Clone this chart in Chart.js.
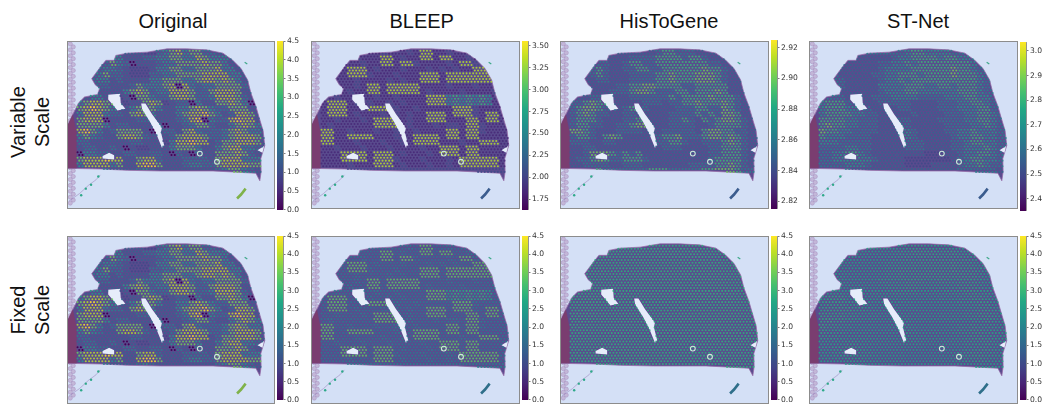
<!DOCTYPE html>
<html><head><meta charset="utf-8">
<script src="https://cdn.jsdelivr.net/npm/chart.js@4"></script>
<style>
html,body{margin:0;padding:0;background:#fff;width:1042px;height:406px;overflow:hidden}
.abs{position:absolute}
.t{font:20px "Liberation Sans",Arial,sans-serif;color:#111;text-align:center;white-space:nowrap}
.panel{box-sizing:border-box;border:1.5px solid #8c8c8c;background:#d4e0f6;filter:blur(.35px)}
canvas{display:block}
.row{line-height:24px;transform:translate(-50%,-50%) rotate(-90deg)}
</style></head><body>
<script>
const titles=["Original","BLEEP","HisToGene","ST-Net"];
const rowLabels=[["Variable","Scale"],["Fixed","Scale"]];
const originalRange=[0,4.5], bleepRange=[1.626,3.556], histogeneRange=[2.815,2.925], stnetRange=[2.35,3.036];
const fixedTicks=[0,0.5,1,1.5,2,2.5,3,3.5,4,4.5];
const bleepTicks=[1.75,2,2.25,2.5,2.75,3,3.25,3.5];
const histogeneTicks=[2.82,2.84,2.86,2.88,2.9,2.92];
const stnetTicks=[2.4,2.5,2.6,2.7,2.8,2.9,3];
// levels, 0 = bottom of range, 9 = top of range
const originalLevels=[
"33333333332245785774433333333","33333553334455775587555333333","33334754033345577778775333333",
"33345543222355775577785533333","33457443222445577778888553333","33455343333557775578878753333",
"33344333475557808545577774333","33333335787455888744788873333","33553323077544788744588874333",
"57887732337872344053377875033","78987533578753355787544777333","58885443787533357889753488733",
"78880333344333345890544898833","77775344333340334577433578753","89753477773034437854445787553",
"57543378874333478887445788873","44333333443332588988347788873","34433430322333577753357885543",
"05544334433443043043377787433","78889883378843334444378885553","58888573389973334554478888773",
"34444333345433333333345775433"];
const bleepLevels=[
"11212111121112188112111211121","11111211188121188188112111111","12111121188188211112188211111",
"11118881211121112121211888111","11118882111211188818888888111","12111211112121188818888888111",
"11211218818888811112111211211","11112118818888812111121111211","11211111211211118885656565111",
"18881212112121118885656565111","18881118881211211111888211111","18881211121212118881888218811",
"11211121888812118881118818811","12111111888812111212218821111","88112111211211211118818821111",
"88118888111211888818818811111","88111211121121888811121188811","11211121112111121188818811111",
"11188881888121112188818811111","11188881888211121112188888811","11112111888121112112188888811",
"22222222222222222222222222222"];
const histogeneLevels=[
"33333333333334664443333333333","33333333344446666466433333333","33334433466446666666644333333",
"33346433446644666666766433333","33346433344446676667776433333","33334433344446676667776433333",
"33333334466776666446666633333","33333344467764446646667633333","33344433344444464666676664333",
"44676633333444344667666764333","46776443466433334446644764333","46764433443333344446464776333",
"46664333446433344643646776433","46644334467733344443346666433","77643334444333444443677664433",
"46643676333334667444677676433","44433443333334466433444676433","33443333333333444333344666433",
"33477764646333333333344666433","34467644666433333333346666433","33444433444333333344446676433",
"34466444444466644444667776443"];
const stnetLevels=[
"44444444444445665555444444444","33333333333455666656655444444","33333333344556566666666544444",
"33333333345555666666766544444","33433333445566656666766654444","33443333345565666666666654444",
"33443333355556665566566654444","33333333345556655555566654444","34443333444555544445556655444",
"56664333344444333344455665444","56665544333344333344455566444","56666554433333433334445566544",
"66665544433344333344445566544","67665544433344333334444556544","76655444433345433334455655544",
"65554444333345433333455665544","55544444333334443333445665544","44445544333334443333445556544",
"44556654333333332223345566544","44555555433332222222345665544","44445554333332222333345565444",
"34444333333333333333344444433"];
// section outlines, in the picture's own units
const tissueOutline=[[200,375],[215,345],[232,310],[250,292],[290,284],[296,265],[283,255],[272,236],[295,205],[315,180],[340,180],[345,165],[380,158],[440,155],[500,145],[560,145],[620,148],[670,158],[700,180],[725,205],[745,240],[755,280],[770,320],[780,355],[792,395],[797,440],[785,480],[786,520],[782,548],[770,525],[700,521],[640,518],[560,518],[480,518],[380,516],[300,512],[200,510],[200,375]];
const leftEdge=[[200,375],[215,345],[226,400],[226,510],[200,510],[200,375]];
const holeA=[[322,285],[358,282],[360,310],[374,328],[350,333],[335,315],[322,300],[322,285]];
const holeB=[[422,312],[435,312],[455,345],[485,385],[482,400],[492,440],[485,447],[470,410],[450,370],[425,330],[422,312]];
const holeC=[[305,472],[325,462],[340,470],[340,483],[305,480],[305,472]];
const holeD=[[775,455],[795,442],[790,462],[775,455]];
const strand=[[203,610],[235,587],[262,562],[285,545],[298,530]];
const blob=[[713,602],[725,590],[739,572]];
const speck=[[736,186],[744,191]];
const rings=[[652,490],[600,465]];
const strandSpots=[[240,592],[270,560],[292,535],[254,572]];
const fiducialRows=[130,139,148,157,166,175,184,193,202,211,220,229,238,247,256,265,274,283,292,301,310,319,328,337,346,355,364,373,382,391,400,409,418,427,436,445,454,463,472,481,490,499,508,517,526,535,544,553,562,571,580,589,598,607,616];

const viridis=[[68,1,84],[72,36,117],[65,68,135],[53,95,141],[42,120,142],[33,145,140],[34,168,132],[68,191,112],[122,209,81],[189,223,38],[253,231,37]];
function cmap(t,a){t=Math.max(0,Math.min(1,t))*10;const i=Math.min(9,Math.floor(t)),f=t-i,p=viridis[i],q=viridis[i+1];
 return `rgba(${p.map((v,k)=>Math.round(v+(q[k]-v)*f)).join(",")},${a})`}
function inside(pt,poly){let c=false;for(let i=0,j=poly.length-1;i<poly.length;j=i++){const[a,b]=poly[i],[d,e]=poly[j];
 if((b>pt[1])!==(e>pt[1])&&pt[0]<(d-a)*(pt[1]-b)/(e-b)+a)c=!c}return c}
const toXY=a=>a.map(([x,y])=>({x,y}));
function spots(levels,dataRange,colorRange){const pts=[],cols=[];
 for(let r=0;r<44;r++)for(let c=0;c<57;c++){
  const p=[229+c*10+(r%2?5:0),151+r*8.6];
  if(!inside(p,tissueOutline)||inside(p,leftEdge)||[holeA,holeB,holeC,holeD].some(h=>inside(p,h)))continue;
  const row=levels[Math.min(levels.length-1,r>>1)],d=+row.charAt(c>>1)||0;
  const v=dataRange[0]+d/9*(dataRange[1]-dataRange[0]);
  pts.push({x:p[0],y:p[1]});
  cols.push(cmap((v-colorRange[0])/(colorRange[1]-colorRange[0]),d===0?1:.85));
 }return{pts,cols}}
function area(points,color,order,edge){return{type:"scatter",data:toXY(points),showLine:true,tension:0,fill:"shape",backgroundColor:color,borderColor:edge||color,borderWidth:edge?1:0,pointRadius:0,order}}
function mark(points,color,width,order){return{type:"scatter",data:toXY(points),showLine:true,tension:0,fill:false,borderColor:color,borderWidth:width,pointRadius:0,order}}
function panel(box,levels,dataRange,colorRange,blobColor){
 const el=document.createElement("div");el.className="abs panel";
 Object.assign(el.style,{left:box[0]+"px",top:box[1]+"px",width:box[2]+"px",height:box[3]+"px"});
 const cv=document.createElement("canvas");cv.width=box[2]-3;cv.height=box[3]-3;el.appendChild(cv);document.body.appendChild(el);
 const s=spots(levels,dataRange,colorRange);
 new Chart(cv,{type:"scatter",data:{datasets:[
  {data:s.pts,pointBackgroundColor:s.cols,pointRadius:1.02,pointBorderWidth:0,showLine:false,order:1},
  {data:toXY(rings),pointBackgroundColor:"rgba(0,0,0,0)",pointBorderColor:"#cfeadb",pointBorderWidth:1.1,pointRadius:2.4,showLine:false,order:0},
  {data:toXY(strandSpots),pointBackgroundColor:"#2fa98a",pointRadius:1.2,pointBorderWidth:0,showLine:false,order:0},
  area(holeA,"#e6edfa",2),area(holeB,"#e6edfa",2),area(holeC,"#e6edfa",2),area(holeD,"#e6edfa",2),
  area(leftEdge,"#7a3d70",3),
  area(tissueOutline,"#5a4b8e",4,"rgba(150,105,165,.75)"),
  mark(strand,"rgba(150,125,185,.5)",1,5),
  mark(blob,blobColor,2.6,5),
  mark(speck,"#3fa98a",1.3,5),
  {data:fiducialRows.map((y,i)=>({x:i%2?216:207,y})),pointBackgroundColor:"rgba(190,170,205,.75)",pointBorderColor:"rgba(165,140,190,.8)",pointBorderWidth:.6,pointRadius:2.1,showLine:false,order:5}
 ]},options:{responsive:false,animation:false,events:[],layout:{padding:0,autoPadding:false},
  plugins:{legend:{display:false},tooltip:{enabled:false}},
  scales:{x:{type:"linear",display:false,min:200,max:822},y:{type:"linear",display:false,min:124,max:625,reverse:true}}}});
}
function colorbar(x,top,h,w,range,ticks,decimals){
 const padT=5,padB=Math.min(5,406-(top+h)),W=w+26;
 const cv=document.createElement("canvas");cv.className="abs";cv.width=W;cv.height=h+padT+padB;
 Object.assign(cv.style,{left:x+"px",top:(top-padT)+"px",filter:"blur(.25px)"});document.body.appendChild(cv);
 new Chart(cv,{type:"bar",data:{labels:["c"],datasets:[{data:[range],barPercentage:1,categoryPercentage:1,
   backgroundColor:c=>{const a=c.chart.chartArea;if(!a)return "#000";const g=c.chart.ctx.createLinearGradient(0,a.bottom,0,a.top);viridis.forEach((v,i)=>g.addColorStop(i/10,`rgb(${v})`));return g}}]},
  options:{responsive:false,animation:false,events:[],layout:{autoPadding:false,padding:{top:padT,bottom:padB,left:0,right:0}},
  plugins:{legend:{display:false},tooltip:{enabled:false}},
  scales:{x:{display:false},y:{position:"right",min:range[0],max:range[1],afterFit:s=>{s.width=26},
   afterBuildTicks:s=>{s.ticks=ticks.map(value=>({value}))},
   border:{display:true,color:"#777",width:.8},grid:{drawOnChartArea:false,drawTicks:true,tickLength:2.5,color:"#444",lineWidth:.7},
   ticks:{padding:1.5,color:"#333",font:{family:"DejaVu Sans",size:7.6},autoSkip:false,maxRotation:0,callback:v=>(+v).toFixed(decimals)}}}}});
}
const xs=[66.5,311,560,809.3], barX=[277,522.3,771,1020];
const topY=41,botY=236,pw=208.5,ph=167.5;
const mapsData=[[originalLevels,originalRange,fixedTicks,1,"#7fb24a"],[bleepLevels,bleepRange,bleepTicks,2,"#3b5c8e"],[histogeneLevels,histogeneRange,histogeneTicks,2,"#3b5c8e"],[stnetLevels,stnetRange,stnetTicks,1,"#3b5c8e"]];
const barTop=[40,39.5,39,41];
mapsData.forEach((m,i)=>{
 panel([xs[i],topY,pw,ph],m[0],m[1],m[1],m[4]);
 panel([xs[i],botY,pw,ph],m[0],m[1],originalRange,i===0?"#7fb24a":"#2f6f8a");
 colorbar(barX[i],barTop[i],171,6.6,m[1],m[2],m[3]);
 colorbar(barX[i],235,170,6.6,originalRange,fixedTicks,1);
 const t=document.createElement("div");t.className="abs t";t.textContent=titles[i];
 Object.assign(t.style,{left:[173,421.7,669,918][i]+"px",top:"10px",transform:"translateX(-50%)"});document.body.appendChild(t);
});
rowLabels.forEach((l,i)=>{const d=document.createElement("div");d.className="abs t row";d.innerHTML=l.join("<br>");
 Object.assign(d.style,{left:"30px",top:[122,310][i]+"px"});document.body.appendChild(d)});
</script>
</body></html>
